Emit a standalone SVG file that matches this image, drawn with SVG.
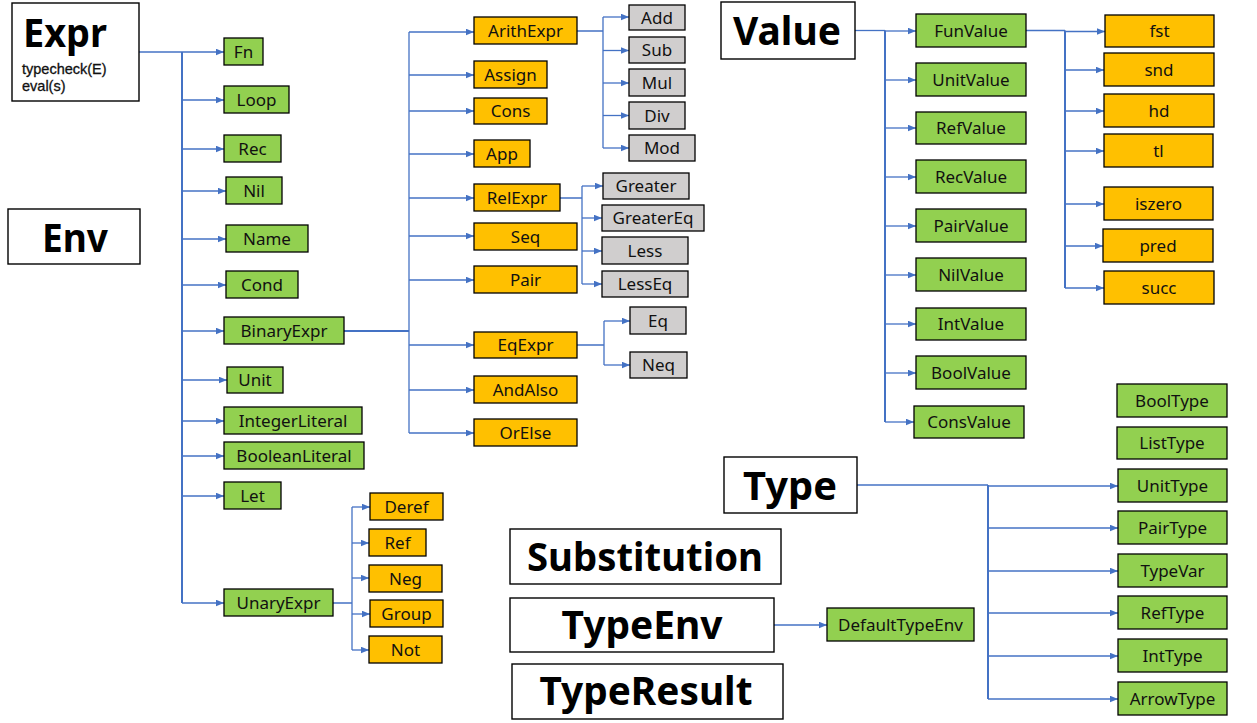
<svg xmlns="http://www.w3.org/2000/svg" width="1257" height="723" viewBox="0 0 1257 723">
<style>
rect{stroke:#000;stroke-width:1.3}
.w{fill:#fff;stroke-width:1.4}
.g{fill:#92D050}
.o{fill:#FFC000}
.s{fill:#D0CECE}
text{font-family:"Noto Sans","Open Sans",sans-serif;fill:#111}
.l{font-size:17px;text-anchor:middle}
.t{font-size:39px;font-weight:bold;text-anchor:middle;fill:#000}
.sub{font-family:"Liberation Sans",Arial,sans-serif;font-size:14.5px;stroke:#111;stroke-width:0.3}
.c{fill:none;stroke:#4472C4;stroke-width:1.3}
.c .a{marker-end:url(#ah)}
.c .tr{stroke-width:2}
</style>
<defs>
<marker id="ah" markerUnits="userSpaceOnUse" markerWidth="9" markerHeight="8" refX="8.5" refY="3.5" orient="auto">
<path d="M0,0 L8.5,3.5 L0,7 z" fill="#4472C4"/>
</marker>
</defs>
<g id="connectors" class="c">
<path d="M139,52 H182"/>
<path class="tr" d="M182,52 V603"/>
<path class="a" d="M182,52 H224"/>
<path class="a" d="M182,100 H224"/>
<path class="a" d="M182,149 H224"/>
<path class="a" d="M182,191 H226"/>
<path class="a" d="M182,239 H226"/>
<path class="a" d="M182,285 H226"/>
<path class="a" d="M182,331 H224"/>
<path class="a" d="M182,380 H227"/>
<path class="a" d="M182,421 H224"/>
<path class="a" d="M182,456 H224"/>
<path class="a" d="M182,496 H224"/>
<path class="a" d="M182,603 H224"/>
<path class="tr" d="M344,331 H409"/>
<path d="M409,32 V433"/>
<path class="a" d="M409,32 H474"/>
<path class="a" d="M409,75 H474"/>
<path class="a" d="M409,111 H474"/>
<path class="a" d="M409,154 H474"/>
<path class="a" d="M409,198 H474"/>
<path class="a" d="M409,236 H474"/>
<path class="a" d="M409,280 H474"/>
<path class="a" d="M409,345 H474"/>
<path class="a" d="M409,390 H474"/>
<path class="a" d="M409,433 H474"/>
<path d="M577,31 H603 M603,17 V148"/>
<path class="a" d="M603,17 H629"/>
<path class="a" d="M603,50.5 H629"/>
<path class="a" d="M603,83 H629"/>
<path class="a" d="M603,115.5 H629"/>
<path class="a" d="M603,148 H629"/>
<path d="M560,198 H582 M582,186 V284"/>
<path class="a" d="M582,186 H603"/>
<path class="a" d="M582,218 H602"/>
<path class="a" d="M582,251 H602"/>
<path class="a" d="M582,284 H602"/>
<path d="M577,345 H604 M604,321 V365"/>
<path class="a" d="M604,321 H630"/>
<path class="a" d="M604,365 H630"/>
<path d="M333,603 H352 M352,507 V650"/>
<path class="a" d="M352,507 H370"/>
<path class="a" d="M352,543 H369"/>
<path class="a" d="M352,578 H369"/>
<path class="a" d="M352,614 H370"/>
<path class="a" d="M352,650 H369"/>
<path d="M855,30.5 H885"/>
<path class="tr" d="M885,30.5 V422"/>
<path class="a" d="M885,31 H916"/>
<path class="a" d="M885,80 H916"/>
<path class="a" d="M885,128 H916"/>
<path class="a" d="M885,177 H916"/>
<path class="a" d="M885,226 H916"/>
<path class="a" d="M885,275 H916"/>
<path class="a" d="M885,324 H916"/>
<path class="a" d="M885,373 H916"/>
<path class="a" d="M885,422 H914"/>
<path d="M1026,30.5 H1065"/>
<path class="tr" d="M1065,30.5 V288"/>
<path class="a" d="M1065,31.5 H1105"/>
<path class="a" d="M1065,70 H1104"/>
<path class="a" d="M1065,111 H1104"/>
<path class="a" d="M1065,151 H1104"/>
<path class="a" d="M1065,204 H1104"/>
<path class="a" d="M1065,246 H1103"/>
<path class="a" d="M1065,288 H1104"/>
<path d="M857,485 H988"/>
<path class="tr" d="M988,485 V699"/>
<path class="a" d="M988,486 H1118"/>
<path class="a" d="M988,528 H1118"/>
<path class="a" d="M988,571 H1118"/>
<path class="a" d="M988,613 H1118"/>
<path class="a" d="M988,656 H1118"/>
<path class="a" d="M988,699 H1118"/>
<path class="a" d="M774,625 H827"/>
</g>
<g id="Expr"><rect class="w" x="12" y="3" width="127" height="98"/><text class="t" x="23" y="47" style="text-anchor:start" textLength="84" lengthAdjust="spacingAndGlyphs">Expr</text><text class="sub" x="22" y="74">typecheck(E)</text><text class="sub" x="22" y="91">eval(s)</text></g>
<g id="Env"><rect class="w" x="8" y="209" width="132" height="55"/><text class="t" x="75" y="252" textLength="66" lengthAdjust="spacingAndGlyphs">Env</text></g>
<g id="Fn"><rect class="g" x="224" y="38" width="39" height="27"/><text class="l" x="243.5" y="57.5">Fn</text></g>
<g id="Loop"><rect class="g" x="224" y="86" width="65" height="27"/><text class="l" x="256.5" y="105.5">Loop</text></g>
<g id="Rec"><rect class="g" x="224" y="135" width="57" height="27"/><text class="l" x="252.5" y="154.5">Rec</text></g>
<g id="Nil"><rect class="g" x="226" y="177" width="56" height="27"/><text class="l" x="254" y="196.5">Nil</text></g>
<g id="Name"><rect class="g" x="226" y="225" width="82" height="27"/><text class="l" x="267" y="244.5">Name</text></g>
<g id="Cond"><rect class="g" x="226" y="271" width="72" height="27"/><text class="l" x="262" y="290.5">Cond</text></g>
<g id="BinaryExpr"><rect class="g" x="224" y="317" width="120" height="27"/><text class="l" x="284" y="336.5">BinaryExpr</text></g>
<g id="Unit"><rect class="g" x="227" y="367" width="56" height="26"/><text class="l" x="255" y="386">Unit</text></g>
<g id="IntegerLiteral"><rect class="g" x="224" y="407" width="138" height="27"/><text class="l" x="293" y="426.5">IntegerLiteral</text></g>
<g id="BooleanLiteral"><rect class="g" x="224" y="442" width="140" height="27"/><text class="l" x="294" y="461.5">BooleanLiteral</text></g>
<g id="Let"><rect class="g" x="224" y="482" width="57" height="27"/><text class="l" x="252.5" y="501.5">Let</text></g>
<g id="UnaryExpr"><rect class="g" x="224" y="589" width="109" height="27"/><text class="l" x="278.5" y="608.5">UnaryExpr</text></g>
<g id="Deref"><rect class="o" x="370" y="493" width="73" height="27"/><text class="l" x="406.5" y="512.5">Deref</text></g>
<g id="Ref"><rect class="o" x="369" y="529" width="57" height="27"/><text class="l" x="397.5" y="548.5">Ref</text></g>
<g id="Neg"><rect class="o" x="369" y="565" width="73" height="27"/><text class="l" x="405.5" y="584.5">Neg</text></g>
<g id="Group"><rect class="o" x="370" y="600" width="73" height="27"/><text class="l" x="406.5" y="619.5">Group</text></g>
<g id="Not"><rect class="o" x="369" y="636" width="73" height="27"/><text class="l" x="405.5" y="655.5">Not</text></g>
<g id="ArithExpr"><rect class="o" x="474" y="17" width="103" height="27"/><text class="l" x="525.5" y="36.5">ArithExpr</text></g>
<g id="Assign"><rect class="o" x="474" y="61" width="73" height="27"/><text class="l" x="510.5" y="80.5">Assign</text></g>
<g id="Cons"><rect class="o" x="474" y="98" width="73" height="26"/><text class="l" x="510.5" y="117">Cons</text></g>
<g id="App"><rect class="o" x="474" y="140" width="56" height="27"/><text class="l" x="502" y="159.5">App</text></g>
<g id="RelExpr"><rect class="o" x="474" y="184" width="86" height="27"/><text class="l" x="517" y="203.5">RelExpr</text></g>
<g id="Seq"><rect class="o" x="474" y="223" width="103" height="27"/><text class="l" x="525.5" y="242.5">Seq</text></g>
<g id="Pair"><rect class="o" x="474" y="266" width="103" height="27"/><text class="l" x="525.5" y="285.5">Pair</text></g>
<g id="EqExpr"><rect class="o" x="474" y="332" width="103" height="26"/><text class="l" x="525.5" y="351">EqExpr</text></g>
<g id="AndAlso"><rect class="o" x="474" y="376" width="103" height="27"/><text class="l" x="525.5" y="395.5">AndAlso</text></g>
<g id="OrElse"><rect class="o" x="474" y="419" width="103" height="27"/><text class="l" x="525.5" y="438.5">OrElse</text></g>
<g id="Add"><rect class="s" x="629" y="5" width="56" height="25"/><text class="l" x="657" y="23.5">Add</text></g>
<g id="Sub"><rect class="s" x="629" y="37" width="56" height="26"/><text class="l" x="657" y="56">Sub</text></g>
<g id="Mul"><rect class="s" x="629" y="69" width="56" height="27"/><text class="l" x="657" y="88.5">Mul</text></g>
<g id="Div"><rect class="s" x="629" y="102" width="56" height="27"/><text class="l" x="657" y="121.5">Div</text></g>
<g id="Mod"><rect class="s" x="629" y="135" width="66" height="26"/><text class="l" x="662" y="154">Mod</text></g>
<g id="Greater"><rect class="s" x="603" y="173" width="86" height="26"/><text class="l" x="646" y="192">Greater</text></g>
<g id="GreaterEq"><rect class="s" x="602" y="205" width="102" height="26"/><text class="l" x="653" y="224">GreaterEq</text></g>
<g id="Less"><rect class="s" x="602" y="237" width="86" height="27"/><text class="l" x="645" y="256.5">Less</text></g>
<g id="LessEq"><rect class="s" x="602" y="271" width="86" height="26"/><text class="l" x="645" y="290">LessEq</text></g>
<g id="Eq"><rect class="s" x="630" y="307" width="56" height="27"/><text class="l" x="658" y="326.5">Eq</text></g>
<g id="Neq"><rect class="s" x="630" y="352" width="57" height="26"/><text class="l" x="658.5" y="371">Neq</text></g>
<g id="Value"><rect class="w" x="721" y="2" width="134" height="57"/><text class="t" x="787" y="45" textLength="108" lengthAdjust="spacingAndGlyphs">Value</text></g>
<g id="FunValue"><rect class="g" x="916" y="14" width="110" height="33"/><text class="l" x="971" y="36.5">FunValue</text></g>
<g id="UnitValue"><rect class="g" x="916" y="63" width="110" height="33"/><text class="l" x="971" y="85.5">UnitValue</text></g>
<g id="RefValue"><rect class="g" x="916" y="112" width="110" height="32"/><text class="l" x="971" y="134">RefValue</text></g>
<g id="RecValue"><rect class="g" x="916" y="160" width="110" height="33"/><text class="l" x="971" y="182.5">RecValue</text></g>
<g id="PairValue"><rect class="g" x="916" y="209" width="110" height="33"/><text class="l" x="971" y="231.5">PairValue</text></g>
<g id="NilValue"><rect class="g" x="916" y="258" width="110" height="33"/><text class="l" x="971" y="280.5">NilValue</text></g>
<g id="IntValue"><rect class="g" x="916" y="308" width="110" height="32"/><text class="l" x="971" y="330">IntValue</text></g>
<g id="BoolValue"><rect class="g" x="916" y="356" width="110" height="33"/><text class="l" x="971" y="378.5">BoolValue</text></g>
<g id="ConsValue"><rect class="g" x="914" y="406" width="110" height="32"/><text class="l" x="969" y="428">ConsValue</text></g>
<g id="fst"><rect class="o" x="1105" y="15" width="109" height="32"/><text class="l" x="1159.5" y="37">fst</text></g>
<g id="snd"><rect class="o" x="1104" y="53" width="110" height="33"/><text class="l" x="1159" y="75.5">snd</text></g>
<g id="hd"><rect class="o" x="1104" y="94" width="110" height="33"/><text class="l" x="1159" y="116.5">hd</text></g>
<g id="tl"><rect class="o" x="1104" y="134" width="109" height="33"/><text class="l" x="1158.5" y="156.5">tl</text></g>
<g id="iszero"><rect class="o" x="1104" y="187" width="109" height="33"/><text class="l" x="1158.5" y="209.5">iszero</text></g>
<g id="pred"><rect class="o" x="1103" y="229" width="110" height="33"/><text class="l" x="1158" y="251.5">pred</text></g>
<g id="succ"><rect class="o" x="1104" y="271" width="110" height="33"/><text class="l" x="1159" y="293.5">succ</text></g>
<g id="Type"><rect class="w" x="724" y="457" width="133" height="56"/><text class="t" x="790" y="500" textLength="94" lengthAdjust="spacingAndGlyphs">Type</text></g>
<g id="BoolType"><rect class="g" x="1117" y="384" width="110" height="33"/><text class="l" x="1172" y="406.5">BoolType</text></g>
<g id="ListType"><rect class="g" x="1117" y="427" width="110" height="32"/><text class="l" x="1172" y="449">ListType</text></g>
<g id="UnitType"><rect class="g" x="1118" y="469" width="109" height="33"/><text class="l" x="1172.5" y="491.5">UnitType</text></g>
<g id="PairType"><rect class="g" x="1118" y="511" width="109" height="33"/><text class="l" x="1172.5" y="533.5">PairType</text></g>
<g id="TypeVar"><rect class="g" x="1118" y="554" width="109" height="33"/><text class="l" x="1172.5" y="576.5">TypeVar</text></g>
<g id="RefType"><rect class="g" x="1118" y="596" width="109" height="33"/><text class="l" x="1172.5" y="618.5">RefType</text></g>
<g id="IntType"><rect class="g" x="1118" y="639" width="109" height="33"/><text class="l" x="1172.5" y="661.5">IntType</text></g>
<g id="ArrowType"><rect class="g" x="1118" y="682" width="109" height="33"/><text class="l" x="1172.5" y="704.5">ArrowType</text></g>
<g id="Substitution"><rect class="w" x="510" y="529" width="271" height="55"/><text class="t" x="645" y="571" textLength="236" lengthAdjust="spacingAndGlyphs">Substitution</text></g>
<g id="TypeEnv"><rect class="w" x="510" y="598" width="264" height="54"/><text class="t" x="642" y="639" textLength="161" lengthAdjust="spacingAndGlyphs">TypeEnv</text></g>
<g id="DefaultTypeEnv"><rect class="g" x="827" y="608" width="147" height="33"/><text class="l" x="900.5" y="630.5">DefaultTypeEnv</text></g>
<g id="TypeResult"><rect class="w" x="512" y="664" width="271" height="55"/><text class="t" x="646" y="705" textLength="213" lengthAdjust="spacingAndGlyphs">TypeResult</text></g>
</svg>
